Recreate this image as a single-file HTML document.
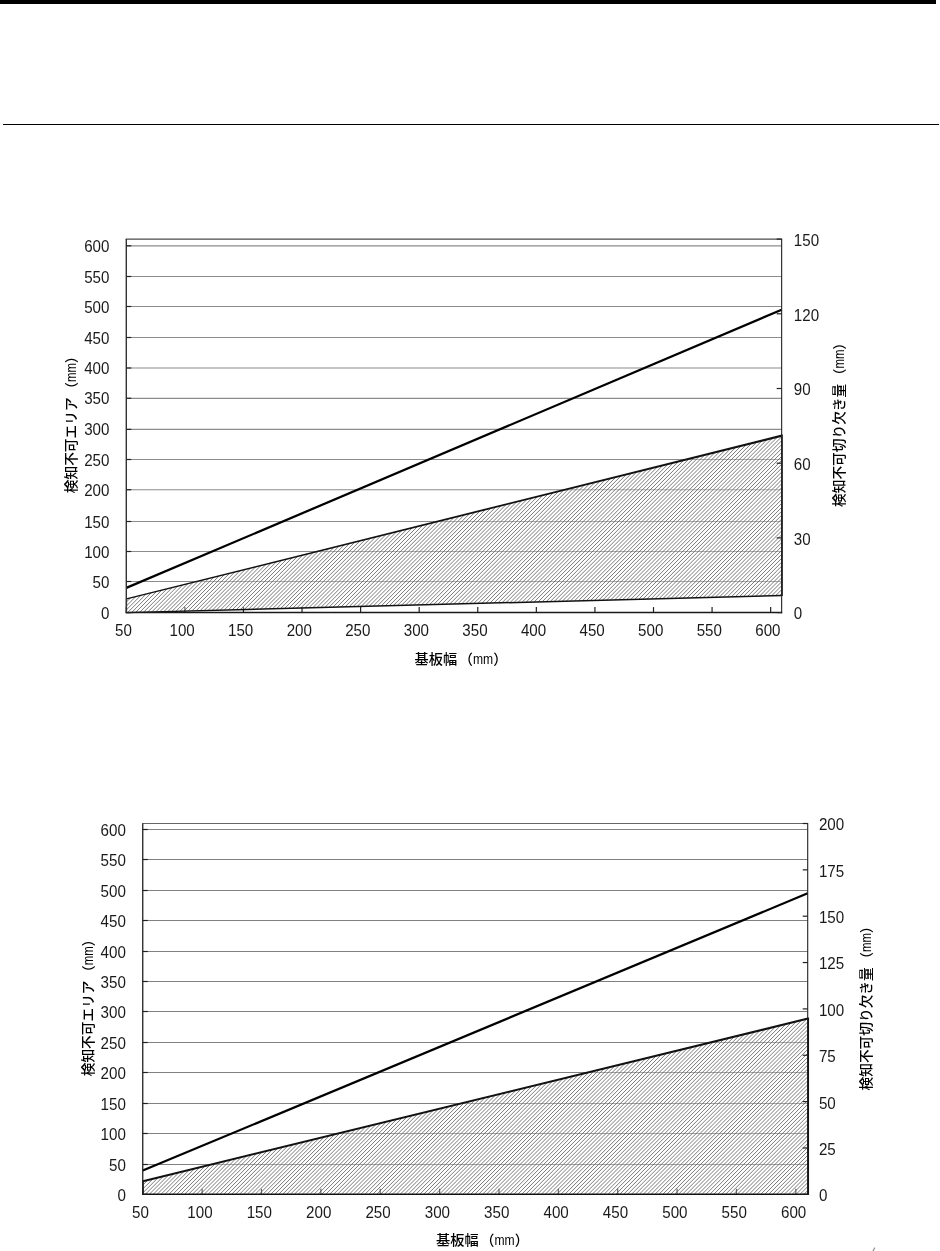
<!DOCTYPE html>
<html lang="ja"><head><meta charset="utf-8"><title>chart</title>
<style>
html,body{margin:0;padding:0;background:#fff;}
body{width:940px;height:1251px;overflow:hidden;position:relative;}
svg{position:absolute;left:0;top:0;display:block}
.n{font-family:"Liberation Sans","Noto Sans CJK JP",sans-serif;fill:#1a1a1a;}
.j{font-family:"Liberation Sans","Noto Sans CJK JP",sans-serif;font-size:13.7px;font-weight:500;fill:#000;}
.m{font-weight:400;}
.m{font-size:14.3px;}
.t{font-size:14.2px;}
.t .m{font-size:15px;}
</style></head><body>
<svg width="940" height="1251" viewBox="0 0 940 1251">
<rect x="0" y="0" width="936" height="4" fill="#000"/>
<rect x="3" y="124" width="936" height="1" fill="#000"/>
<line x1="126.3" y1="581.50" x2="781.65" y2="581.50" stroke="#8c8c8c" stroke-width="1.15"/>
<line x1="126.3" y1="551.50" x2="781.65" y2="551.50" stroke="#8c8c8c" stroke-width="1.15"/>
<line x1="126.3" y1="521.50" x2="781.65" y2="521.50" stroke="#8c8c8c" stroke-width="1.15"/>
<line x1="126.3" y1="489.70" x2="781.65" y2="489.70" stroke="#8c8c8c" stroke-width="1.15"/>
<line x1="126.3" y1="459.50" x2="781.65" y2="459.50" stroke="#8c8c8c" stroke-width="1.15"/>
<line x1="126.3" y1="429.40" x2="781.65" y2="429.40" stroke="#8c8c8c" stroke-width="1.15"/>
<line x1="126.3" y1="398.30" x2="781.65" y2="398.30" stroke="#8c8c8c" stroke-width="1.15"/>
<line x1="126.3" y1="368.00" x2="781.65" y2="368.00" stroke="#8c8c8c" stroke-width="1.15"/>
<line x1="126.3" y1="337.50" x2="781.65" y2="337.50" stroke="#8c8c8c" stroke-width="1.15"/>
<line x1="126.3" y1="306.50" x2="781.65" y2="306.50" stroke="#8c8c8c" stroke-width="1.15"/>
<line x1="126.3" y1="276.50" x2="781.65" y2="276.50" stroke="#8c8c8c" stroke-width="1.15"/>
<line x1="126.3" y1="245.80" x2="781.65" y2="245.80" stroke="#8c8c8c" stroke-width="1.15"/>
<line x1="126.30" y1="612.6" x2="126.30" y2="607.1" stroke="#222" stroke-width="1.2"/>
<line x1="184.88" y1="612.6" x2="184.88" y2="607.1" stroke="#222" stroke-width="1.2"/>
<line x1="243.45" y1="612.6" x2="243.45" y2="607.1" stroke="#222" stroke-width="1.2"/>
<line x1="302.03" y1="612.6" x2="302.03" y2="607.1" stroke="#222" stroke-width="1.2"/>
<line x1="360.61" y1="612.6" x2="360.61" y2="607.1" stroke="#222" stroke-width="1.2"/>
<line x1="419.19" y1="612.6" x2="419.19" y2="607.1" stroke="#222" stroke-width="1.2"/>
<line x1="477.76" y1="612.6" x2="477.76" y2="607.1" stroke="#222" stroke-width="1.2"/>
<line x1="536.34" y1="612.6" x2="536.34" y2="607.1" stroke="#222" stroke-width="1.2"/>
<line x1="594.92" y1="612.6" x2="594.92" y2="607.1" stroke="#222" stroke-width="1.2"/>
<line x1="653.49" y1="612.6" x2="653.49" y2="607.1" stroke="#222" stroke-width="1.2"/>
<line x1="712.07" y1="612.6" x2="712.07" y2="607.1" stroke="#222" stroke-width="1.2"/>
<line x1="770.65" y1="612.6" x2="770.65" y2="607.1" stroke="#222" stroke-width="1.2"/>
<clipPath id="c1"><polygon points="126.50,598.97 782.00,435.56 782.00,595.48 126.50,612.60"/></clipPath>
<polygon points="126.50,598.97 782.00,435.56 782.00,595.48 126.50,612.60" fill="#fff" fill-opacity="0.3"/>
<path clip-path="url(#c1)" d="M-56.66,612.60L122.38,433.56M-52.74,612.60L126.30,433.56M-48.82,612.60L130.22,433.56M-44.90,612.60L134.14,433.56M-40.98,612.60L138.06,433.56M-37.06,612.60L141.98,433.56M-33.14,612.60L145.90,433.56M-29.22,612.60L149.82,433.56M-25.30,612.60L153.74,433.56M-21.38,612.60L157.66,433.56M-17.46,612.60L161.58,433.56M-13.54,612.60L165.50,433.56M-9.62,612.60L169.42,433.56M-5.70,612.60L173.34,433.56M-1.78,612.60L177.26,433.56M2.14,612.60L181.18,433.56M6.06,612.60L185.10,433.56M9.98,612.60L189.02,433.56M13.90,612.60L192.94,433.56M17.82,612.60L196.86,433.56M21.74,612.60L200.78,433.56M25.66,612.60L204.70,433.56M29.58,612.60L208.62,433.56M33.50,612.60L212.54,433.56M37.42,612.60L216.46,433.56M41.34,612.60L220.38,433.56M45.26,612.60L224.30,433.56M49.18,612.60L228.22,433.56M53.10,612.60L232.14,433.56M57.02,612.60L236.06,433.56M60.94,612.60L239.98,433.56M64.86,612.60L243.90,433.56M68.78,612.60L247.82,433.56M72.70,612.60L251.74,433.56M76.62,612.60L255.66,433.56M80.54,612.60L259.58,433.56M84.46,612.60L263.50,433.56M88.38,612.60L267.42,433.56M92.30,612.60L271.34,433.56M96.22,612.60L275.26,433.56M100.14,612.60L279.18,433.56M104.06,612.60L283.10,433.56M107.98,612.60L287.02,433.56M111.90,612.60L290.94,433.56M115.82,612.60L294.86,433.56M119.74,612.60L298.78,433.56M123.66,612.60L302.70,433.56M127.58,612.60L306.62,433.56M131.50,612.60L310.54,433.56M135.42,612.60L314.46,433.56M139.34,612.60L318.38,433.56M143.26,612.60L322.30,433.56M147.18,612.60L326.22,433.56M151.10,612.60L330.14,433.56M155.02,612.60L334.06,433.56M158.94,612.60L337.98,433.56M162.86,612.60L341.90,433.56M166.78,612.60L345.82,433.56M170.70,612.60L349.74,433.56M174.62,612.60L353.66,433.56M178.54,612.60L357.58,433.56M182.46,612.60L361.50,433.56M186.38,612.60L365.42,433.56M190.30,612.60L369.34,433.56M194.22,612.60L373.26,433.56M198.14,612.60L377.18,433.56M202.06,612.60L381.10,433.56M205.98,612.60L385.02,433.56M209.90,612.60L388.94,433.56M213.82,612.60L392.86,433.56M217.74,612.60L396.78,433.56M221.66,612.60L400.70,433.56M225.58,612.60L404.62,433.56M229.50,612.60L408.54,433.56M233.42,612.60L412.46,433.56M237.34,612.60L416.38,433.56M241.26,612.60L420.30,433.56M245.18,612.60L424.22,433.56M249.10,612.60L428.14,433.56M253.02,612.60L432.06,433.56M256.94,612.60L435.98,433.56M260.86,612.60L439.90,433.56M264.78,612.60L443.82,433.56M268.70,612.60L447.74,433.56M272.62,612.60L451.66,433.56M276.54,612.60L455.58,433.56M280.46,612.60L459.50,433.56M284.38,612.60L463.42,433.56M288.30,612.60L467.34,433.56M292.22,612.60L471.26,433.56M296.14,612.60L475.18,433.56M300.06,612.60L479.10,433.56M303.98,612.60L483.02,433.56M307.90,612.60L486.94,433.56M311.82,612.60L490.86,433.56M315.74,612.60L494.78,433.56M319.66,612.60L498.70,433.56M323.58,612.60L502.62,433.56M327.50,612.60L506.54,433.56M331.42,612.60L510.46,433.56M335.34,612.60L514.38,433.56M339.26,612.60L518.30,433.56M343.18,612.60L522.22,433.56M347.10,612.60L526.14,433.56M351.02,612.60L530.06,433.56M354.94,612.60L533.98,433.56M358.86,612.60L537.90,433.56M362.78,612.60L541.82,433.56M366.70,612.60L545.74,433.56M370.62,612.60L549.66,433.56M374.54,612.60L553.58,433.56M378.46,612.60L557.50,433.56M382.38,612.60L561.42,433.56M386.30,612.60L565.34,433.56M390.22,612.60L569.26,433.56M394.14,612.60L573.18,433.56M398.06,612.60L577.10,433.56M401.98,612.60L581.02,433.56M405.90,612.60L584.94,433.56M409.82,612.60L588.86,433.56M413.74,612.60L592.78,433.56M417.66,612.60L596.70,433.56M421.58,612.60L600.62,433.56M425.50,612.60L604.54,433.56M429.42,612.60L608.46,433.56M433.34,612.60L612.38,433.56M437.26,612.60L616.30,433.56M441.18,612.60L620.22,433.56M445.10,612.60L624.14,433.56M449.02,612.60L628.06,433.56M452.94,612.60L631.98,433.56M456.86,612.60L635.90,433.56M460.78,612.60L639.82,433.56M464.70,612.60L643.74,433.56M468.62,612.60L647.66,433.56M472.54,612.60L651.58,433.56M476.46,612.60L655.50,433.56M480.38,612.60L659.42,433.56M484.30,612.60L663.34,433.56M488.22,612.60L667.26,433.56M492.14,612.60L671.18,433.56M496.06,612.60L675.10,433.56M499.98,612.60L679.02,433.56M503.90,612.60L682.94,433.56M507.82,612.60L686.86,433.56M511.74,612.60L690.78,433.56M515.66,612.60L694.70,433.56M519.58,612.60L698.62,433.56M523.50,612.60L702.54,433.56M527.42,612.60L706.46,433.56M531.34,612.60L710.38,433.56M535.26,612.60L714.30,433.56M539.18,612.60L718.22,433.56M543.10,612.60L722.14,433.56M547.02,612.60L726.06,433.56M550.94,612.60L729.98,433.56M554.86,612.60L733.90,433.56M558.78,612.60L737.82,433.56M562.70,612.60L741.74,433.56M566.62,612.60L745.66,433.56M570.54,612.60L749.58,433.56M574.46,612.60L753.50,433.56M578.38,612.60L757.42,433.56M582.30,612.60L761.34,433.56M586.22,612.60L765.26,433.56M590.14,612.60L769.18,433.56M594.06,612.60L773.10,433.56M597.98,612.60L777.02,433.56M601.90,612.60L780.94,433.56M605.82,612.60L784.86,433.56M609.74,612.60L788.78,433.56M613.66,612.60L792.70,433.56M617.58,612.60L796.62,433.56M621.50,612.60L800.54,433.56M625.42,612.60L804.46,433.56M629.34,612.60L808.38,433.56M633.26,612.60L812.30,433.56M637.18,612.60L816.22,433.56M641.10,612.60L820.14,433.56M645.02,612.60L824.06,433.56M648.94,612.60L827.98,433.56M652.86,612.60L831.90,433.56M656.78,612.60L835.82,433.56M660.70,612.60L839.74,433.56M664.62,612.60L843.66,433.56M668.54,612.60L847.58,433.56M672.46,612.60L851.50,433.56M676.38,612.60L855.42,433.56M680.30,612.60L859.34,433.56M684.22,612.60L863.26,433.56M688.14,612.60L867.18,433.56M692.06,612.60L871.10,433.56M695.98,612.60L875.02,433.56M699.90,612.60L878.94,433.56M703.82,612.60L882.86,433.56M707.74,612.60L886.78,433.56M711.66,612.60L890.70,433.56M715.58,612.60L894.62,433.56M719.50,612.60L898.54,433.56M723.42,612.60L902.46,433.56M727.34,612.60L906.38,433.56M731.26,612.60L910.30,433.56M735.18,612.60L914.22,433.56M739.10,612.60L918.14,433.56M743.02,612.60L922.06,433.56M746.94,612.60L925.98,433.56M750.86,612.60L929.90,433.56M754.78,612.60L933.82,433.56M758.70,612.60L937.74,433.56M762.62,612.60L941.66,433.56M766.54,612.60L945.58,433.56M770.46,612.60L949.50,433.56M774.38,612.60L953.42,433.56M778.30,612.60L957.34,433.56M782.22,612.60L961.26,433.56" stroke="#585858" stroke-width="0.8" fill="none"/>
<polygon points="126.66,599.60 782.27,436.63 781.73,434.49 126.34,598.34" fill="#111"/>
<polygon points="781.20,434.46 781.20,596.08 782.80,596.08 782.80,434.46" fill="#111"/>
<polygon points="126.52,613.30 782.02,596.28 781.98,594.68 126.48,611.90" fill="#111"/>
<polygon points="125.90,598.32 125.90,612.60 127.10,612.60 127.10,598.32" fill="#111"/>
<line x1="126.30" y1="587.90" x2="781.65" y2="309.75" stroke="#000" stroke-width="2.25"/>
<line x1="125.7" y1="239.1" x2="782.15" y2="239.1" stroke="#4a4a4a" stroke-width="1.3"/>
<line x1="781.65" y1="239.1" x2="781.65" y2="613.2" stroke="#222" stroke-width="1.1"/>
<line x1="125.7" y1="612.6" x2="782.15" y2="612.6" stroke="#1a1a1a" stroke-width="1.5"/>
<line x1="126.3" y1="239.1" x2="126.3" y2="613.2" stroke="#333" stroke-width="1.4"/>
<line x1="126.3" y1="612.60" x2="131.3" y2="612.60" stroke="#222" stroke-width="1.2"/>
<text transform="translate(109.40,618.60) scale(0.945,1)" text-anchor="end" class="n" font-size="16.0">0</text>
<line x1="126.3" y1="581.50" x2="131.3" y2="581.50" stroke="#222" stroke-width="1.2"/>
<text transform="translate(109.40,587.50) scale(0.945,1)" text-anchor="end" class="n" font-size="16.0">50</text>
<line x1="126.3" y1="551.50" x2="131.3" y2="551.50" stroke="#222" stroke-width="1.2"/>
<text transform="translate(109.40,557.50) scale(0.945,1)" text-anchor="end" class="n" font-size="16.0">100</text>
<line x1="126.3" y1="521.50" x2="131.3" y2="521.50" stroke="#222" stroke-width="1.2"/>
<text transform="translate(109.40,527.50) scale(0.945,1)" text-anchor="end" class="n" font-size="16.0">150</text>
<line x1="126.3" y1="489.70" x2="131.3" y2="489.70" stroke="#222" stroke-width="1.2"/>
<text transform="translate(109.40,495.70) scale(0.945,1)" text-anchor="end" class="n" font-size="16.0">200</text>
<line x1="126.3" y1="459.50" x2="131.3" y2="459.50" stroke="#222" stroke-width="1.2"/>
<text transform="translate(109.40,465.50) scale(0.945,1)" text-anchor="end" class="n" font-size="16.0">250</text>
<line x1="126.3" y1="429.40" x2="131.3" y2="429.40" stroke="#222" stroke-width="1.2"/>
<text transform="translate(109.40,435.40) scale(0.945,1)" text-anchor="end" class="n" font-size="16.0">300</text>
<line x1="126.3" y1="398.30" x2="131.3" y2="398.30" stroke="#222" stroke-width="1.2"/>
<text transform="translate(109.40,404.30) scale(0.945,1)" text-anchor="end" class="n" font-size="16.0">350</text>
<line x1="126.3" y1="368.00" x2="131.3" y2="368.00" stroke="#222" stroke-width="1.2"/>
<text transform="translate(109.40,374.00) scale(0.945,1)" text-anchor="end" class="n" font-size="16.0">400</text>
<line x1="126.3" y1="337.50" x2="131.3" y2="337.50" stroke="#222" stroke-width="1.2"/>
<text transform="translate(109.40,343.50) scale(0.945,1)" text-anchor="end" class="n" font-size="16.0">450</text>
<line x1="126.3" y1="306.50" x2="131.3" y2="306.50" stroke="#222" stroke-width="1.2"/>
<text transform="translate(109.40,312.50) scale(0.945,1)" text-anchor="end" class="n" font-size="16.0">500</text>
<line x1="126.3" y1="276.50" x2="131.3" y2="276.50" stroke="#222" stroke-width="1.2"/>
<text transform="translate(109.40,282.50) scale(0.945,1)" text-anchor="end" class="n" font-size="16.0">550</text>
<line x1="126.3" y1="245.80" x2="131.3" y2="245.80" stroke="#222" stroke-width="1.2"/>
<text transform="translate(109.40,251.80) scale(0.945,1)" text-anchor="end" class="n" font-size="16.0">600</text>
<text transform="translate(123.50,635.90) scale(0.945,1)" text-anchor="middle" class="n" font-size="16.0">50</text>
<text transform="translate(182.08,635.90) scale(0.945,1)" text-anchor="middle" class="n" font-size="16.0">100</text>
<text transform="translate(240.65,635.90) scale(0.945,1)" text-anchor="middle" class="n" font-size="16.0">150</text>
<text transform="translate(299.23,635.90) scale(0.945,1)" text-anchor="middle" class="n" font-size="16.0">200</text>
<text transform="translate(357.81,635.90) scale(0.945,1)" text-anchor="middle" class="n" font-size="16.0">250</text>
<text transform="translate(416.39,635.90) scale(0.945,1)" text-anchor="middle" class="n" font-size="16.0">300</text>
<text transform="translate(474.96,635.90) scale(0.945,1)" text-anchor="middle" class="n" font-size="16.0">350</text>
<text transform="translate(533.54,635.90) scale(0.945,1)" text-anchor="middle" class="n" font-size="16.0">400</text>
<text transform="translate(592.12,635.90) scale(0.945,1)" text-anchor="middle" class="n" font-size="16.0">450</text>
<text transform="translate(650.69,635.90) scale(0.945,1)" text-anchor="middle" class="n" font-size="16.0">500</text>
<text transform="translate(709.27,635.90) scale(0.945,1)" text-anchor="middle" class="n" font-size="16.0">550</text>
<text transform="translate(767.85,635.90) scale(0.945,1)" text-anchor="middle" class="n" font-size="16.0">600</text>
<line x1="781.65" y1="612.60" x2="776.65" y2="612.60" stroke="#222" stroke-width="1.2"/>
<text transform="translate(793.85,619.30) scale(0.945,1)" text-anchor="start" class="n" font-size="16.0">0</text>
<line x1="781.65" y1="537.90" x2="776.65" y2="537.90" stroke="#222" stroke-width="1.2"/>
<text transform="translate(793.85,544.60) scale(0.945,1)" text-anchor="start" class="n" font-size="16.0">30</text>
<line x1="781.65" y1="463.20" x2="776.65" y2="463.20" stroke="#222" stroke-width="1.2"/>
<text transform="translate(793.85,469.90) scale(0.945,1)" text-anchor="start" class="n" font-size="16.0">60</text>
<line x1="781.65" y1="388.50" x2="776.65" y2="388.50" stroke="#222" stroke-width="1.2"/>
<text transform="translate(793.85,395.20) scale(0.945,1)" text-anchor="start" class="n" font-size="16.0">90</text>
<line x1="781.65" y1="313.80" x2="776.65" y2="313.80" stroke="#222" stroke-width="1.2"/>
<text transform="translate(793.85,320.50) scale(0.945,1)" text-anchor="start" class="n" font-size="16.0">120</text>
<line x1="781.65" y1="239.10" x2="776.65" y2="239.10" stroke="#222" stroke-width="1.2"/>
<text transform="translate(793.85,245.80) scale(0.945,1)" text-anchor="start" class="n" font-size="16.0">150</text>
<text transform="translate(76.2,421.3) rotate(-90)" text-anchor="middle" class="j">検知不可エリア<tspan dx="1.6">（</tspan><tspan class="m" textLength="19.0" lengthAdjust="spacingAndGlyphs">mm</tspan>）</text>
<text transform="translate(844.2,421.4) rotate(-90)" text-anchor="middle" class="j">検知不可切り欠き量<tspan dx="1.6">（</tspan><tspan class="m" textLength="19.0" lengthAdjust="spacingAndGlyphs">mm</tspan>）</text>
<text x="461" y="664.3" text-anchor="middle" class="j t">基板幅<tspan dx="1.6">（</tspan><tspan class="m" textLength="20.2" lengthAdjust="spacingAndGlyphs">mm</tspan>）</text>
<line x1="142.75" y1="1164.50" x2="807.7" y2="1164.50" stroke="#808080" stroke-width="1"/>
<line x1="142.75" y1="1133.50" x2="807.7" y2="1133.50" stroke="#808080" stroke-width="1"/>
<line x1="142.75" y1="1103.50" x2="807.7" y2="1103.50" stroke="#808080" stroke-width="1"/>
<line x1="142.75" y1="1072.50" x2="807.7" y2="1072.50" stroke="#808080" stroke-width="1"/>
<line x1="142.75" y1="1042.50" x2="807.7" y2="1042.50" stroke="#808080" stroke-width="1"/>
<line x1="142.75" y1="1011.50" x2="807.7" y2="1011.50" stroke="#808080" stroke-width="1"/>
<line x1="142.75" y1="981.50" x2="807.7" y2="981.50" stroke="#808080" stroke-width="1"/>
<line x1="142.75" y1="951.50" x2="807.7" y2="951.50" stroke="#808080" stroke-width="1"/>
<line x1="142.75" y1="920.50" x2="807.7" y2="920.50" stroke="#808080" stroke-width="1"/>
<line x1="142.75" y1="890.50" x2="807.7" y2="890.50" stroke="#808080" stroke-width="1"/>
<line x1="142.75" y1="859.50" x2="807.7" y2="859.50" stroke="#808080" stroke-width="1"/>
<line x1="142.75" y1="829.50" x2="807.7" y2="829.50" stroke="#808080" stroke-width="1"/>
<line x1="142.75" y1="1194.3" x2="142.75" y2="1188.8" stroke="#222" stroke-width="1.2"/>
<line x1="202.12" y1="1194.3" x2="202.12" y2="1188.8" stroke="#222" stroke-width="1.2"/>
<line x1="261.49" y1="1194.3" x2="261.49" y2="1188.8" stroke="#222" stroke-width="1.2"/>
<line x1="320.86" y1="1194.3" x2="320.86" y2="1188.8" stroke="#222" stroke-width="1.2"/>
<line x1="380.23" y1="1194.3" x2="380.23" y2="1188.8" stroke="#222" stroke-width="1.2"/>
<line x1="439.60" y1="1194.3" x2="439.60" y2="1188.8" stroke="#222" stroke-width="1.2"/>
<line x1="498.97" y1="1194.3" x2="498.97" y2="1188.8" stroke="#222" stroke-width="1.2"/>
<line x1="558.34" y1="1194.3" x2="558.34" y2="1188.8" stroke="#222" stroke-width="1.2"/>
<line x1="617.71" y1="1194.3" x2="617.71" y2="1188.8" stroke="#222" stroke-width="1.2"/>
<line x1="677.08" y1="1194.3" x2="677.08" y2="1188.8" stroke="#222" stroke-width="1.2"/>
<line x1="736.46" y1="1194.3" x2="736.46" y2="1188.8" stroke="#222" stroke-width="1.2"/>
<line x1="795.83" y1="1194.3" x2="795.83" y2="1188.8" stroke="#222" stroke-width="1.2"/>
<clipPath id="c2"><polygon points="142.95,1181.23 808.05,1018.59 808.05,1194.30 142.95,1194.30"/></clipPath>
<polygon points="142.95,1181.23 808.05,1018.59 808.05,1194.30 142.95,1194.30" fill="#fff" fill-opacity="0.3"/>
<path clip-path="url(#c2)" d="M-38.88,1194.30L138.83,1016.59M-34.96,1194.30L142.75,1016.59M-31.04,1194.30L146.67,1016.59M-27.12,1194.30L150.59,1016.59M-23.20,1194.30L154.51,1016.59M-19.28,1194.30L158.43,1016.59M-15.36,1194.30L162.35,1016.59M-11.44,1194.30L166.27,1016.59M-7.52,1194.30L170.19,1016.59M-3.60,1194.30L174.11,1016.59M0.32,1194.30L178.03,1016.59M4.24,1194.30L181.95,1016.59M8.16,1194.30L185.87,1016.59M12.08,1194.30L189.79,1016.59M16.00,1194.30L193.71,1016.59M19.92,1194.30L197.63,1016.59M23.84,1194.30L201.55,1016.59M27.76,1194.30L205.47,1016.59M31.68,1194.30L209.39,1016.59M35.60,1194.30L213.31,1016.59M39.52,1194.30L217.23,1016.59M43.44,1194.30L221.15,1016.59M47.36,1194.30L225.07,1016.59M51.28,1194.30L228.99,1016.59M55.20,1194.30L232.91,1016.59M59.12,1194.30L236.83,1016.59M63.04,1194.30L240.75,1016.59M66.96,1194.30L244.67,1016.59M70.88,1194.30L248.59,1016.59M74.80,1194.30L252.51,1016.59M78.72,1194.30L256.43,1016.59M82.64,1194.30L260.35,1016.59M86.56,1194.30L264.27,1016.59M90.48,1194.30L268.19,1016.59M94.40,1194.30L272.11,1016.59M98.32,1194.30L276.03,1016.59M102.24,1194.30L279.95,1016.59M106.16,1194.30L283.87,1016.59M110.08,1194.30L287.79,1016.59M114.00,1194.30L291.71,1016.59M117.92,1194.30L295.63,1016.59M121.84,1194.30L299.55,1016.59M125.76,1194.30L303.47,1016.59M129.68,1194.30L307.39,1016.59M133.60,1194.30L311.31,1016.59M137.52,1194.30L315.23,1016.59M141.44,1194.30L319.15,1016.59M145.36,1194.30L323.07,1016.59M149.28,1194.30L326.99,1016.59M153.20,1194.30L330.91,1016.59M157.12,1194.30L334.83,1016.59M161.04,1194.30L338.75,1016.59M164.96,1194.30L342.67,1016.59M168.88,1194.30L346.59,1016.59M172.80,1194.30L350.51,1016.59M176.72,1194.30L354.43,1016.59M180.64,1194.30L358.35,1016.59M184.56,1194.30L362.27,1016.59M188.48,1194.30L366.19,1016.59M192.40,1194.30L370.11,1016.59M196.32,1194.30L374.03,1016.59M200.24,1194.30L377.95,1016.59M204.16,1194.30L381.87,1016.59M208.08,1194.30L385.79,1016.59M212.00,1194.30L389.71,1016.59M215.92,1194.30L393.63,1016.59M219.84,1194.30L397.55,1016.59M223.76,1194.30L401.47,1016.59M227.68,1194.30L405.39,1016.59M231.60,1194.30L409.31,1016.59M235.52,1194.30L413.23,1016.59M239.44,1194.30L417.15,1016.59M243.36,1194.30L421.07,1016.59M247.28,1194.30L424.99,1016.59M251.20,1194.30L428.91,1016.59M255.12,1194.30L432.83,1016.59M259.04,1194.30L436.75,1016.59M262.96,1194.30L440.67,1016.59M266.88,1194.30L444.59,1016.59M270.80,1194.30L448.51,1016.59M274.72,1194.30L452.43,1016.59M278.64,1194.30L456.35,1016.59M282.56,1194.30L460.27,1016.59M286.48,1194.30L464.19,1016.59M290.40,1194.30L468.11,1016.59M294.32,1194.30L472.03,1016.59M298.24,1194.30L475.95,1016.59M302.16,1194.30L479.87,1016.59M306.08,1194.30L483.79,1016.59M310.00,1194.30L487.71,1016.59M313.92,1194.30L491.63,1016.59M317.84,1194.30L495.55,1016.59M321.76,1194.30L499.47,1016.59M325.68,1194.30L503.39,1016.59M329.60,1194.30L507.31,1016.59M333.52,1194.30L511.23,1016.59M337.44,1194.30L515.15,1016.59M341.36,1194.30L519.07,1016.59M345.28,1194.30L522.99,1016.59M349.20,1194.30L526.91,1016.59M353.12,1194.30L530.83,1016.59M357.04,1194.30L534.75,1016.59M360.96,1194.30L538.67,1016.59M364.88,1194.30L542.59,1016.59M368.80,1194.30L546.51,1016.59M372.72,1194.30L550.43,1016.59M376.64,1194.30L554.35,1016.59M380.56,1194.30L558.27,1016.59M384.48,1194.30L562.19,1016.59M388.40,1194.30L566.11,1016.59M392.32,1194.30L570.03,1016.59M396.24,1194.30L573.95,1016.59M400.16,1194.30L577.87,1016.59M404.08,1194.30L581.79,1016.59M408.00,1194.30L585.71,1016.59M411.92,1194.30L589.63,1016.59M415.84,1194.30L593.55,1016.59M419.76,1194.30L597.47,1016.59M423.68,1194.30L601.39,1016.59M427.60,1194.30L605.31,1016.59M431.52,1194.30L609.23,1016.59M435.44,1194.30L613.15,1016.59M439.36,1194.30L617.07,1016.59M443.28,1194.30L620.99,1016.59M447.20,1194.30L624.91,1016.59M451.12,1194.30L628.83,1016.59M455.04,1194.30L632.75,1016.59M458.96,1194.30L636.67,1016.59M462.88,1194.30L640.59,1016.59M466.80,1194.30L644.51,1016.59M470.72,1194.30L648.43,1016.59M474.64,1194.30L652.35,1016.59M478.56,1194.30L656.27,1016.59M482.48,1194.30L660.19,1016.59M486.40,1194.30L664.11,1016.59M490.32,1194.30L668.03,1016.59M494.24,1194.30L671.95,1016.59M498.16,1194.30L675.87,1016.59M502.08,1194.30L679.79,1016.59M506.00,1194.30L683.71,1016.59M509.92,1194.30L687.63,1016.59M513.84,1194.30L691.55,1016.59M517.76,1194.30L695.47,1016.59M521.68,1194.30L699.39,1016.59M525.60,1194.30L703.31,1016.59M529.52,1194.30L707.23,1016.59M533.44,1194.30L711.15,1016.59M537.36,1194.30L715.07,1016.59M541.28,1194.30L718.99,1016.59M545.20,1194.30L722.91,1016.59M549.12,1194.30L726.83,1016.59M553.04,1194.30L730.75,1016.59M556.96,1194.30L734.67,1016.59M560.88,1194.30L738.59,1016.59M564.80,1194.30L742.51,1016.59M568.72,1194.30L746.43,1016.59M572.64,1194.30L750.35,1016.59M576.56,1194.30L754.27,1016.59M580.48,1194.30L758.19,1016.59M584.40,1194.30L762.11,1016.59M588.32,1194.30L766.03,1016.59M592.24,1194.30L769.95,1016.59M596.16,1194.30L773.87,1016.59M600.08,1194.30L777.79,1016.59M604.00,1194.30L781.71,1016.59M607.92,1194.30L785.63,1016.59M611.84,1194.30L789.55,1016.59M615.76,1194.30L793.47,1016.59M619.68,1194.30L797.39,1016.59M623.60,1194.30L801.31,1016.59M627.52,1194.30L805.23,1016.59M631.44,1194.30L809.15,1016.59M635.36,1194.30L813.07,1016.59M639.28,1194.30L816.99,1016.59M643.20,1194.30L820.91,1016.59M647.12,1194.30L824.83,1016.59M651.04,1194.30L828.75,1016.59M654.96,1194.30L832.67,1016.59M658.88,1194.30L836.59,1016.59M662.80,1194.30L840.51,1016.59M666.72,1194.30L844.43,1016.59M670.64,1194.30L848.35,1016.59M674.56,1194.30L852.27,1016.59M678.48,1194.30L856.19,1016.59M682.40,1194.30L860.11,1016.59M686.32,1194.30L864.03,1016.59M690.24,1194.30L867.95,1016.59M694.16,1194.30L871.87,1016.59M698.08,1194.30L875.79,1016.59M702.00,1194.30L879.71,1016.59M705.92,1194.30L883.63,1016.59M709.84,1194.30L887.55,1016.59M713.76,1194.30L891.47,1016.59M717.68,1194.30L895.39,1016.59M721.60,1194.30L899.31,1016.59M725.52,1194.30L903.23,1016.59M729.44,1194.30L907.15,1016.59M733.36,1194.30L911.07,1016.59M737.28,1194.30L914.99,1016.59M741.20,1194.30L918.91,1016.59M745.12,1194.30L922.83,1016.59M749.04,1194.30L926.75,1016.59M752.96,1194.30L930.67,1016.59M756.88,1194.30L934.59,1016.59M760.80,1194.30L938.51,1016.59M764.72,1194.30L942.43,1016.59M768.64,1194.30L946.35,1016.59M772.56,1194.30L950.27,1016.59M776.48,1194.30L954.19,1016.59M780.40,1194.30L958.11,1016.59M784.32,1194.30L962.03,1016.59M788.24,1194.30L965.95,1016.59M792.16,1194.30L969.87,1016.59M796.08,1194.30L973.79,1016.59M800.00,1194.30L977.71,1016.59M803.92,1194.30L981.63,1016.59M807.84,1194.30L985.55,1016.59" stroke="#585858" stroke-width="0.8" fill="none"/>
<polygon points="143.18,1182.15 808.30,1019.61 807.80,1017.57 142.72,1180.31" fill="#111"/>
<polygon points="807.05,1017.54 807.05,1194.90 809.05,1194.90 809.05,1017.54" fill="#111"/>
<polygon points="142.15,1180.28 142.15,1194.30 143.75,1194.30 143.75,1180.28" fill="#111"/>
<line x1="142.75" y1="1170.59" x2="807.70" y2="893.34" stroke="#000" stroke-width="2.2"/>
<line x1="142.15" y1="823.5" x2="808.2" y2="823.5" stroke="#666" stroke-width="1.0"/>
<line x1="807.7" y1="823.5" x2="807.7" y2="1194.8999999999999" stroke="#222" stroke-width="1.1"/>
<line x1="142.15" y1="1194.3" x2="808.2" y2="1194.3" stroke="#111" stroke-width="1.5"/>
<line x1="142.75" y1="823.5" x2="142.75" y2="1194.8999999999999" stroke="#222" stroke-width="1.3"/>
<line x1="142.75" y1="1194.30" x2="147.75" y2="1194.30" stroke="#222" stroke-width="1.2"/>
<text transform="translate(125.85,1200.80) scale(0.955,1)" text-anchor="end" class="n" font-size="15.9">0</text>
<line x1="142.75" y1="1164.50" x2="147.75" y2="1164.50" stroke="#222" stroke-width="1.2"/>
<text transform="translate(125.85,1171.00) scale(0.955,1)" text-anchor="end" class="n" font-size="15.9">50</text>
<line x1="142.75" y1="1133.50" x2="147.75" y2="1133.50" stroke="#222" stroke-width="1.2"/>
<text transform="translate(125.85,1140.00) scale(0.955,1)" text-anchor="end" class="n" font-size="15.9">100</text>
<line x1="142.75" y1="1103.50" x2="147.75" y2="1103.50" stroke="#222" stroke-width="1.2"/>
<text transform="translate(125.85,1110.00) scale(0.955,1)" text-anchor="end" class="n" font-size="15.9">150</text>
<line x1="142.75" y1="1072.50" x2="147.75" y2="1072.50" stroke="#222" stroke-width="1.2"/>
<text transform="translate(125.85,1079.00) scale(0.955,1)" text-anchor="end" class="n" font-size="15.9">200</text>
<line x1="142.75" y1="1042.50" x2="147.75" y2="1042.50" stroke="#222" stroke-width="1.2"/>
<text transform="translate(125.85,1049.00) scale(0.955,1)" text-anchor="end" class="n" font-size="15.9">250</text>
<line x1="142.75" y1="1011.50" x2="147.75" y2="1011.50" stroke="#222" stroke-width="1.2"/>
<text transform="translate(125.85,1018.00) scale(0.955,1)" text-anchor="end" class="n" font-size="15.9">300</text>
<line x1="142.75" y1="981.50" x2="147.75" y2="981.50" stroke="#222" stroke-width="1.2"/>
<text transform="translate(125.85,988.00) scale(0.955,1)" text-anchor="end" class="n" font-size="15.9">350</text>
<line x1="142.75" y1="951.50" x2="147.75" y2="951.50" stroke="#222" stroke-width="1.2"/>
<text transform="translate(125.85,958.00) scale(0.955,1)" text-anchor="end" class="n" font-size="15.9">400</text>
<line x1="142.75" y1="920.50" x2="147.75" y2="920.50" stroke="#222" stroke-width="1.2"/>
<text transform="translate(125.85,927.00) scale(0.955,1)" text-anchor="end" class="n" font-size="15.9">450</text>
<line x1="142.75" y1="890.50" x2="147.75" y2="890.50" stroke="#222" stroke-width="1.2"/>
<text transform="translate(125.85,897.00) scale(0.955,1)" text-anchor="end" class="n" font-size="15.9">500</text>
<line x1="142.75" y1="859.50" x2="147.75" y2="859.50" stroke="#222" stroke-width="1.2"/>
<text transform="translate(125.85,866.00) scale(0.955,1)" text-anchor="end" class="n" font-size="15.9">550</text>
<line x1="142.75" y1="829.50" x2="147.75" y2="829.50" stroke="#222" stroke-width="1.2"/>
<text transform="translate(125.85,836.00) scale(0.955,1)" text-anchor="end" class="n" font-size="15.9">600</text>
<text transform="translate(140.55,1218.00) scale(0.955,1)" text-anchor="middle" class="n" font-size="15.9">50</text>
<text transform="translate(199.92,1218.00) scale(0.955,1)" text-anchor="middle" class="n" font-size="15.9">100</text>
<text transform="translate(259.29,1218.00) scale(0.955,1)" text-anchor="middle" class="n" font-size="15.9">150</text>
<text transform="translate(318.66,1218.00) scale(0.955,1)" text-anchor="middle" class="n" font-size="15.9">200</text>
<text transform="translate(378.03,1218.00) scale(0.955,1)" text-anchor="middle" class="n" font-size="15.9">250</text>
<text transform="translate(437.40,1218.00) scale(0.955,1)" text-anchor="middle" class="n" font-size="15.9">300</text>
<text transform="translate(496.77,1218.00) scale(0.955,1)" text-anchor="middle" class="n" font-size="15.9">350</text>
<text transform="translate(556.14,1218.00) scale(0.955,1)" text-anchor="middle" class="n" font-size="15.9">400</text>
<text transform="translate(615.51,1218.00) scale(0.955,1)" text-anchor="middle" class="n" font-size="15.9">450</text>
<text transform="translate(674.88,1218.00) scale(0.955,1)" text-anchor="middle" class="n" font-size="15.9">500</text>
<text transform="translate(734.26,1218.00) scale(0.955,1)" text-anchor="middle" class="n" font-size="15.9">550</text>
<text transform="translate(793.63,1218.00) scale(0.955,1)" text-anchor="middle" class="n" font-size="15.9">600</text>
<line x1="807.7" y1="1194.30" x2="802.7" y2="1194.30" stroke="#222" stroke-width="1.2"/>
<text transform="translate(818.90,1201.20) scale(0.955,1)" text-anchor="start" class="n" font-size="15.9">0</text>
<line x1="807.7" y1="1147.95" x2="802.7" y2="1147.95" stroke="#222" stroke-width="1.2"/>
<text transform="translate(818.90,1154.85) scale(0.955,1)" text-anchor="start" class="n" font-size="15.9">25</text>
<line x1="807.7" y1="1101.60" x2="802.7" y2="1101.60" stroke="#222" stroke-width="1.2"/>
<text transform="translate(818.90,1108.50) scale(0.955,1)" text-anchor="start" class="n" font-size="15.9">50</text>
<line x1="807.7" y1="1055.25" x2="802.7" y2="1055.25" stroke="#222" stroke-width="1.2"/>
<text transform="translate(818.90,1062.15) scale(0.955,1)" text-anchor="start" class="n" font-size="15.9">75</text>
<line x1="807.7" y1="1008.90" x2="802.7" y2="1008.90" stroke="#222" stroke-width="1.2"/>
<text transform="translate(818.90,1015.80) scale(0.955,1)" text-anchor="start" class="n" font-size="15.9">100</text>
<line x1="807.7" y1="962.55" x2="802.7" y2="962.55" stroke="#222" stroke-width="1.2"/>
<text transform="translate(818.90,969.45) scale(0.955,1)" text-anchor="start" class="n" font-size="15.9">125</text>
<line x1="807.7" y1="916.20" x2="802.7" y2="916.20" stroke="#222" stroke-width="1.2"/>
<text transform="translate(818.90,923.10) scale(0.955,1)" text-anchor="start" class="n" font-size="15.9">150</text>
<line x1="807.7" y1="869.85" x2="802.7" y2="869.85" stroke="#222" stroke-width="1.2"/>
<text transform="translate(818.90,876.75) scale(0.955,1)" text-anchor="start" class="n" font-size="15.9">175</text>
<line x1="807.7" y1="823.50" x2="802.7" y2="823.50" stroke="#222" stroke-width="1.2"/>
<text transform="translate(818.90,830.40) scale(0.955,1)" text-anchor="start" class="n" font-size="15.9">200</text>
<text transform="translate(92.8,1004.4) rotate(-90)" text-anchor="middle" class="j">検知不可エリア<tspan dx="1.6">（</tspan><tspan class="m" textLength="19.0" lengthAdjust="spacingAndGlyphs">mm</tspan>）</text>
<text transform="translate(870.6,1004.9) rotate(-90)" text-anchor="middle" class="j">検知不可切り欠き量<tspan dx="1.6">（</tspan><tspan class="m" textLength="19.0" lengthAdjust="spacingAndGlyphs">mm</tspan>）</text>
<text x="482.5" y="1245.2" text-anchor="middle" class="j t">基板幅<tspan dx="1.6">（</tspan><tspan class="m" textLength="20.2" lengthAdjust="spacingAndGlyphs">mm</tspan>）</text>
<line x1="872.8" y1="1251.5" x2="874.8" y2="1247.6" stroke="#9a9a9a" stroke-width="1.3"/>
</svg>
</body></html>
